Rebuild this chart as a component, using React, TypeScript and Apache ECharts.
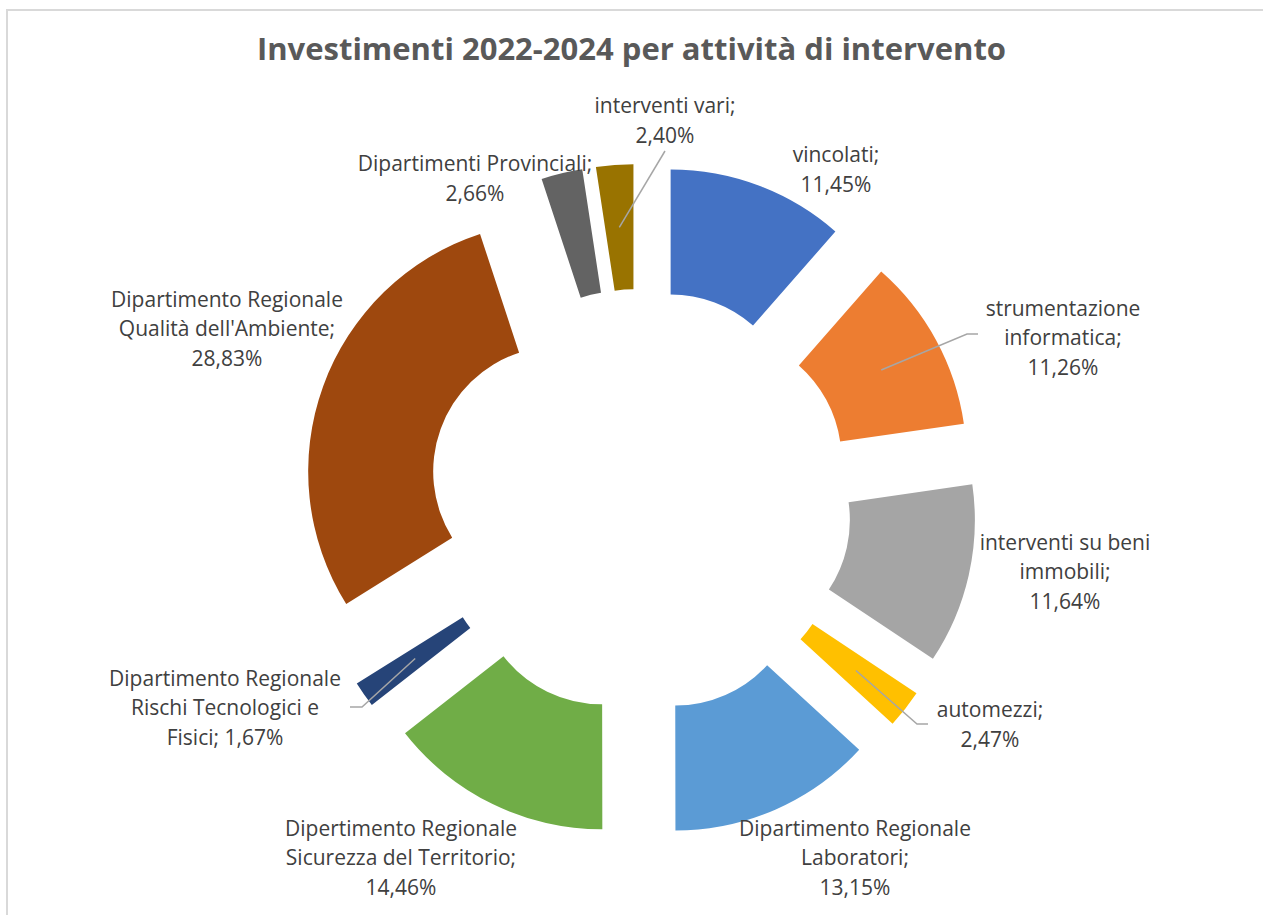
import React, { useEffect, useRef } from "react";
import * as echarts from "echarts";

// ---- data ----
const categories = [
  "vincolati",
  "strumentazione informatica",
  "interventi su beni immobili",
  "automezzi",
  "Dipartimento Regionale Laboratori",
  "Dipertimento Regionale Sicurezza del Territorio",
  "Dipartimento Regionale Rischi Tecnologici e Fisici",
  "Dipartimento Regionale Qualità dell'Ambiente",
  "Dipartimenti Provinciali",
  "interventi vari",
];
const shares = [11.45, 11.26, 11.64, 2.47, 13.15, 14.46, 1.67, 28.83, 2.66, 2.4];
const colors = [
  "#4472C4",
  "#ED7D31",
  "#A5A5A5",
  "#FFC000",
  "#5B9BD5",
  "#70AD47",
  "#264478",
  "#9E480E",
  "#636363",
  "#997300",
];
const titleText = "Investimenti 2022-2024 per attività di intervento";

// ---- layout ----
// words per wrapped label line ("name; pct")
const lineWords = [
  [1, 1],
  [1, 1, 1],
  [3, 1, 1],
  [1, 1],
  [2, 1, 1],
  [2, 3, 1],
  [2, 3, 2],
  [2, 2, 1],
  [2, 1],
  [2, 1],
];
const labelPos = [
  [836, 169],
  [1063, 337],
  [1065, 571],
  [990, 724],
  [855, 857],
  [401, 857],
  [225, 707],
  [227, 328],
  [475, 178],
  [665, 120],
];
// leader-line start / elbow near the label (null = no leader)
const leaderStart: (number[][] | null)[] = [
  null,
  [[978, 334], [967, 334]],
  null,
  [[928, 724], [917, 724]],
  null,
  null,
  [[350, 707], [362, 707]],
  null,
  null,
  [[665, 151], [665, 151]],
];

const CX = 640;
const CY = 501;
const R0 = 125;
const R1 = 250;
const OFFSET = 87;
const FONT = "'Open Sans', Lato, sans-serif";

const total = shares.reduce((a, b) => a + b, 0);
function centroid(i: number): number[] {
  let before = 0;
  for (let k = 0; k < i; k++) before += shares[k];
  const theta = ((before + shares[i] / 2) / total) * Math.PI * 2;
  const d = (R0 + R1) / 2 + OFFSET;
  return [CX + d * Math.sin(theta), CY - d * Math.cos(theta)];
}

function labelText(i: number): string {
  const pct = shares[i].toFixed(2).replace(".", ",") + "%";
  const tokens = `${categories[i]}; ${pct}`.split(" ");
  const counts = lineWords[i];
  const lines: string[] = [];
  let k = 0;
  for (const c of counts) {
    lines.push(tokens.slice(k, k + c).join(" "));
    k += c;
  }
  if (k < tokens.length) lines[lines.length - 1] += " " + tokens.slice(k).join(" ");
  return lines.join("\n");
}

export default function App() {
  const ref = useRef<HTMLDivElement>(null);
  useEffect(() => {
    const chart = echarts.init(ref.current!, null, { renderer: "svg" });
    const graphics: any[] = [
      {
        type: "rect",
        silent: true,
        z: -10,
        shape: { x: 7, y: 10, width: 1400, height: 1000 },
        style: { fill: "none", stroke: "#d9d9d9", lineWidth: 2 },
      },
    ];
    categories.forEach((_, i) => {
      graphics.push({
        type: "text",
        silent: true,
        z: 10,
        style: {
          text: labelText(i),
          x: labelPos[i][0],
          y: labelPos[i][1],
          align: "center",
          verticalAlign: "middle",
          fontFamily: FONT,
          fontSize: 21,
          lineHeight: 29.5,
          fill: "#404040",
        },
      });
      const ls = leaderStart[i];
      if (ls) {
        graphics.push({
          type: "polyline",
          silent: true,
          z: 9,
          shape: { points: [ls[0], ls[1], centroid(i)] },
          style: { stroke: "#a6a6a6", lineWidth: 1.5, fill: "none" },
        });
      }
    });
    chart.setOption({
      animation: false,
      backgroundColor: "#ffffff",
      title: {
        text: titleText,
        left: "center",
        top: 27,
        textStyle: {
          fontFamily: FONT,
          fontSize: 31,
          fontWeight: "bold",
          color: "#595959",
        },
      },
      graphic: graphics,
      series: [
        {
          type: "pie",
          center: [CX, CY],
          radius: [R0, R1],
          startAngle: 90,
          clockwise: true,
          selectedMode: "multiple",
          selectedOffset: OFFSET,
          avoidLabelOverlap: false,
          emphasis: { disabled: true },
          select: { itemStyle: { borderWidth: 0 } },
          itemStyle: { borderWidth: 0 },
          label: { show: false },
          labelLine: { show: false },
          data: categories.map((name, i) => ({
            name,
            value: shares[i],
            selected: true,
            itemStyle: { color: colors[i] },
          })),
        },
      ],
    });
    return () => chart.dispose();
  }, []);
  return (
    <div
      ref={ref}
      style={{
        position: "absolute",
        left: 0,
        top: 0,
        width: 1263,
        height: 915,
        background: "#fff",
      }}
    />
  );
}
